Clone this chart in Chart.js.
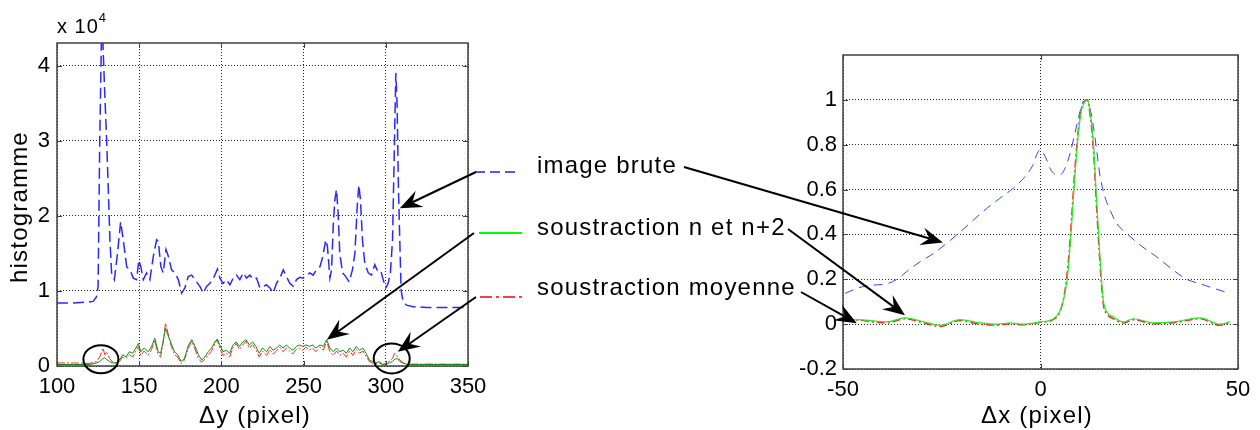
<!DOCTYPE html>
<html>
<head>
<meta charset="utf-8">
<script src="https://cdn.jsdelivr.net/npm/chart.js@4.4.1/dist/chart.umd.min.js"></script>
<style>
body { margin: 0; background: #fff; }
#wrap { position: relative; width: 1260px; height: 430px; overflow: hidden; font-family: "Liberation Sans", Arial, sans-serif; }
#wrap canvas { position: absolute; top: 0; }
.lbl { position: absolute; font-size: 24px; line-height: 24px; letter-spacing: 1.2px; white-space: nowrap; color: #000; }
</style>
</head>
<body>
<div id="wrap">
  <canvas id="left" width="500" height="430" style="left:0"></canvas>
  <canvas id="right" width="490" height="430" style="left:770px"></canvas>
  <canvas id="overlay" width="1260" height="430" style="left:0"></canvas>

  <div class="lbl" style="left:57px; top:16px; font-size:20px; line-height:20px; letter-spacing:1px">x 10<span style="font-size:13px; position:relative; top:-11px; letter-spacing:0">4</span></div>
  <div class="lbl" style="left:19px; top:207px; transform: translate(-50%, -50%) rotate(-90deg)">histogramme</div>
  <div class="lbl" style="left:255px; top:403px; transform: translateX(-50%)">&Delta;y (pixel)</div>
  <div class="lbl" style="left:1037px; top:403px; transform: translateX(-50%)">&Delta;x (pixel)</div>

  <div class="lbl" style="left:537px; top:153px">image brute</div>
  <div class="lbl" style="left:537px; top:215px">soustraction n et n+2</div>
  <div class="lbl" style="left:537px; top:275px">soustraction moyenne</div>
</div>

<script>
var FONT = "'Liberation Sans', Arial, sans-serif";

// ---- left panel : histogramme (x 10^4) vs dy ----
var dyTicks = [100, 150, 200, 250, 300, 350];
var histTicks = [0, 1, 2, 3, 4];

var dyBrute = [100,110,118,122,124,125,126,127.3,128.8,129.2,
  130.2,131.2,132.2,133.2,134.9,136.8,138.7,140.3,142.4,144.4,
  146.4,148.4,149.8,151,152.5,154.5,156.5,158.6,160.6,161.6,
  163.2,164.6,166.3,167.7,169.7,171.7,173.8,175.8,177.8,179.8,
  181.9,183.9,186.9,189,191,193,195.6,197.6,199.1,201,
  203,205.2,207.2,209.2,211.2,213.3,215.3,217.3,219.4,221.4,
  223.4,225.4,227.5,229.5,231.5,233.5,235.6,237.6,239.6,241.6,
  243.7,245.7,247.7,249.7,251.8,253.8,255.8,257.8,259.9,261.5,
  263.5,264.5,266,267,268,269,270,271,272,273.7,
  275.7,277.7,279.7,281.2,282.6,283.6,284.6,285.8,287.2,289.3,
  291.3,293.3,294.7,296.8,298.4,300,301.4,302.8,304.1,304.9,
  305.5,306.1,306.9,307.7,308.5,309.3,310.5,312.6,316.6,324.7,
  350];
var histBrute = [0.84,0.84,0.85,0.86,0.92,1.06,3.0,4.7,3.77,3.55,
  3.0,2.35,1.68,1.24,1.15,1.5,1.92,1.68,1.32,1.28,
  1.17,1.15,1.41,1.32,1.15,1.24,1.15,1.46,1.68,1.66,
  1.32,1.24,1.55,1.46,1.28,1.24,1.15,0.97,1.04,1.19,
  1.21,1.15,1.06,0.97,1.06,1.10,1.19,1.29,1.17,1.10,
  1.15,1.08,1.17,1.21,1.15,1.24,1.17,1.21,1.15,1.17,
  1.04,1.06,1.08,1.04,0.97,1.10,1.17,1.28,1.19,1.10,
  1.06,1.15,1.18,1.17,1.21,1.24,1.21,1.28,1.32,1.44,
  1.68,1.59,1.17,1.28,1.86,2.21,2.35,2.04,1.50,1.24,
  1.19,1.12,1.28,1.50,2.12,2.41,2.21,1.68,1.37,1.24,
  1.21,1.35,1.28,1.28,1.15,1.04,1.10,1.24,1.68,2.57,
  3.24,3.90,3.46,2.35,1.68,1.01,0.86,0.81,0.79,0.78,
  0.78];

var dyNoise = [100,110,120,124,126,128,129,130,132,134,
  136,138,140,142,144,146,148,149.5,151,153,
  155.5,157.5,159.5,161.5,163,164.5,166,167.5,169.5,171.5,
  173.5,175.5,177.5,180,182,184,186,188,190,192,
  194,196,197.5,199,201,203,205,207,209,211,
  213,215,217,219,221,223,225,227.5,229.5,231.5,
  233.5,235.5,237.5,239.5,241.5,243.5,245.5,247.5,249.5,251.5,
  253.5,255.5,257.5,260,262,264,266,268,270,272,
  274,276,278,280,282,284,286,288,290,292,
  294,296,298,300,302,304,305.5,307,308.5,310.5,
  313,320,350];
var histSous2 = [0.02,0.02,0.02,0.04,0.06,0.10,0.11,0.09,0.06,0.04,
  0.04,0.08,0.15,0.12,0.19,0.17,0.24,0.30,0.19,0.24,
  0.19,0.26,0.37,0.19,0.17,0.32,0.50,0.41,0.30,0.19,
  0.15,0.06,0.10,0.28,0.35,0.26,0.15,0.08,0.12,0.19,
  0.24,0.32,0.36,0.28,0.19,0.21,0.17,0.28,0.32,0.26,
  0.32,0.35,0.28,0.32,0.26,0.17,0.24,0.19,0.26,0.21,
  0.24,0.28,0.24,0.28,0.24,0.21,0.26,0.28,0.26,0.28,
  0.26,0.28,0.24,0.28,0.26,0.35,0.24,0.19,0.24,0.19,
  0.21,0.17,0.24,0.19,0.26,0.21,0.24,0.17,0.08,0.06,
  0.04,0.06,0.02,0.03,0.04,0.06,0.09,0.10,0.06,0.04,
  0.02,0.02,0.02];
var histMoy = [0.04,0.04,0.035,0.06,0.12,0.24,0.15,0.19,0.10,0.05,
  0.04,0.06,0.12,0.10,0.15,0.12,0.20,0.26,0.14,0.20,
  0.14,0.22,0.34,0.15,0.12,0.30,0.57,0.44,0.26,0.15,
  0.12,0.03,0.08,0.24,0.33,0.22,0.10,0.05,0.09,0.15,
  0.20,0.30,0.35,0.24,0.14,0.17,0.12,0.24,0.30,0.22,
  0.28,0.33,0.24,0.28,0.22,0.12,0.20,0.14,0.22,0.16,
  0.20,0.25,0.19,0.24,0.20,0.16,0.22,0.24,0.21,0.25,
  0.21,0.24,0.19,0.25,0.21,0.33,0.19,0.14,0.20,0.14,
  0.17,0.12,0.20,0.14,0.22,0.17,0.20,0.13,0.06,0.04,
  0.03,0.04,0.02,0.03,0.06,0.10,0.17,0.13,0.08,0.04,
  0.025,0.025,0.025];

// ---- right panel : normalised profile vs dx ----
var dxTicks = [-50, 0, 50];
var profTicks = [-0.2, 0, 0.2, 0.4, 0.6, 0.8, 1];

var dxBrute = [-49.5,-45.7,-42.3,-38.9,-36,-33.9,-30.5,-27.1,-23.8,-20.4,
  -17,-13.6,-10.3,-6.9,-4.3,-2.2,-0.1,1.2,2.4,3.7,
  4.9,6.2,7.5,8.7,10,10.8,11.7,12.5,13.4,14.2,
  15.1,16.3,17.6,19.3,21.8,25.2,29.4,33.6,37,40.4,
  43.8,48];
var profBrute = [0.137,0.164,0.174,0.18,0.204,0.234,0.278,0.315,0.36,0.41,
  0.464,0.516,0.561,0.606,0.65,0.70,0.777,0.747,0.695,0.668,
  0.665,0.695,0.762,0.851,0.948,0.993,1.0,0.963,0.881,0.777,
  0.658,0.568,0.509,0.449,0.405,0.353,0.30,0.241,0.20,0.18,
  0.16,0.137];

var dxSous = [-49.5,-46.5,-42.3,-38.9,-34.3,-30.5,-25.4,-20.4,-15.3,-11.1,
  -7.7,-4.8,0,3.4,5,6.2,7,7.9,8.7,9.6,
  10.4,11.3,11.9,12.5,13.4,14.2,15.1,15.9,16.8,18.4,
  21,23.5,28.6,33.6,40.4,45.4,48];
var profSous2 = [0.015,0.02,0.015,0.01,0.028,0.015,-0.005,0.02,0.006,0,
  0.006,0,0.01,0.025,0.062,0.137,0.241,0.449,0.658,0.851,
  0.955,0.993,1.0,0.955,0.807,0.554,0.286,0.107,0.055,0.033,
  0.01,0.024,0.006,0.01,0.028,0,0.01];
var profMoy = [0.012,0.018,0.01,0.006,0.024,0.01,-0.01,0.016,0,-0.004,
  0.002,-0.003,0.008,0.022,0.058,0.15,0.27,0.48,0.69,0.87,
  0.965,0.995,1.0,0.94,0.78,0.52,0.26,0.09,0.045,0.025,
  0.005,0.02,0.002,0.006,0.024,-0.005,0.006];

function pts(xs, ys) {
  return xs.map(function (x, i) { return { x: x, y: ys[i] }; });
}

// matlab style box + inward ticks
var matlabBox = {
  id: 'matlabBox',
  afterDraw: function (chart) {
    var ctx = chart.ctx, a = chart.chartArea, sx = chart.scales.x, sy = chart.scales.y;
    ctx.save();
    ctx.strokeStyle = '#404040';
    ctx.lineWidth = 1;
    ctx.beginPath();
    sx.ticks.forEach(function (t) {
      var p = Math.round(sx.getPixelForValue(t.value)) + 0.5;
      ctx.moveTo(p, a.bottom); ctx.lineTo(p, a.bottom - 5);
      ctx.moveTo(p, a.top); ctx.lineTo(p, a.top + 5);
    });
    sy.ticks.forEach(function (t) {
      var p = Math.round(sy.getPixelForValue(t.value)) + 0.5;
      ctx.moveTo(a.left, p); ctx.lineTo(a.left + 5, p);
      ctx.moveTo(a.right, p); ctx.lineTo(a.right - 5, p);
    });
    ctx.stroke();
    ctx.lineWidth = 1.5;
    ctx.strokeRect(a.left, a.top, a.right - a.left, a.bottom - a.top);
    ctx.restore();
  }
};

function axis(ticks, min, max, fit) {
  return {
    type: 'linear', min: min, max: max,
    afterBuildTicks: function (s) { s.ticks = ticks.map(function (v) { return { value: v }; }); },
    afterFit: fit,
    ticks: {
      font: { family: FONT, size: 22 }, color: '#000', padding: 8,
      autoSkip: false, maxRotation: 0,
      callback: function (v) { return String(+v.toFixed(2)); }
    },
    grid: { color: 'rgba(0,0,0,0.85)', lineWidth: 1, drawTicks: false },
    border: { display: false, dash: [1, 2] }
  };
}

var common = {
  responsive: false, animation: false, events: [],
  plugins: { legend: { display: false }, tooltip: { enabled: false } },
  elements: { point: { radius: 0 } }
};

var left = new Chart(document.getElementById('left'), {
  type: 'line',
  data: {
    datasets: [
      { label: 'soustraction n et n+2', data: pts(dyNoise, histSous2), borderColor: 'rgb(20,140,20)', borderWidth: 1, tension: 0 },
      { label: 'soustraction moyenne', data: pts(dyNoise, histMoy), borderColor: 'rgb(255,40,40)', borderWidth: 1, borderDash: [8, 2, 2, 2], tension: 0 },
      { label: 'image brute', data: pts(dyBrute, histBrute), borderColor: 'rgb(40,40,255)', borderWidth: 1.5, borderDash: [11, 5], tension: 0 }
    ]
  },
  options: Object.assign({}, common, {
    layout: { padding: { left: 0, top: 43, right: 32, bottom: 0 } },
    scales: {
      x: axis(dyTicks, 100, 350, function (s) { s.height = 64; }),
      y: axis(histTicks, 0, 4.3, function (s) { s.width = 57; })
    }
  }),
  plugins: [matlabBox]
});
left.options.scales.y.ticks.padding = 7;
left.update();

var right = new Chart(document.getElementById('right'), {
  type: 'line',
  data: {
    datasets: [
      { label: 'soustraction n et n+2', data: pts(dxSous, profSous2), borderColor: 'rgb(40,235,40)', borderWidth: 1.2, cubicInterpolationMode: 'monotone' },
      { label: 'soustraction moyenne', data: pts(dxSous, profMoy), borderColor: 'rgb(255,30,30)', borderWidth: 1.5, borderDash: [8, 3, 2, 3], cubicInterpolationMode: 'monotone' },
      { label: 'image brute', data: pts(dxBrute, profBrute), borderColor: 'rgb(60,60,255)', borderWidth: 1, borderDash: [9, 6], cubicInterpolationMode: 'monotone' }
    ]
  },
  options: Object.assign({}, common, {
    layout: { padding: { left: 0, top: 55, right: 22, bottom: 0 } },
    scales: {
      x: axis(dxTicks, -50, 50, function (s) { s.height = 61; }),
      y: axis(profTicks, -0.2, 1.2, function (s) { s.width = 73; })
    }
  }),
  plugins: [matlabBox]
});
right.options.scales.y.ticks.padding = 6;
right.update();

// ---- annotations: legend samples, arrows, circles ----
var charts = { left: { c: left, off: 0 }, right: { c: right, off: 770 } };
function px(name, x, y) {
  var o = charts[name];
  return [o.off + o.c.scales.x.getPixelForValue(x), o.c.scales.y.getPixelForValue(y)];
}

var arrows = [
  { from: [476, 172], to: ['left', 308.5, 2.1] },
  { from: [474, 233], to: ['left', 264.1, 0.35] },
  { from: [476, 297], to: ['left', 307.3, 0.19] },
  { from: [684, 167], to: ['right', -24.7, 0.364] },
  { from: [788, 229], to: ['right', -34.3, 0.04] },
  { from: [801, 292], to: ['right', -46.5, 0.004] }
];
var circles = [
  { at: ['left', 126.7, 0.09], rx: 17.5, ry: 14 },
  { at: ['left', 303.6, 0.10], rx: 18, ry: 15 }
];

var ov = document.getElementById('overlay').getContext('2d');

function sample(x0, x1, y, color, dash, w) {
  ov.save();
  ov.strokeStyle = color; ov.lineWidth = w; ov.setLineDash(dash);
  ov.beginPath(); ov.moveTo(x0, y); ov.lineTo(x1, y); ov.stroke();
  ov.restore();
}
sample(475, 520, 172, 'rgb(30,30,255)', [10, 5], 1.5);
sample(479, 522, 233, 'rgb(0,255,0)', [], 2);
sample(480, 522, 297, 'rgb(255,0,0)', [12, 4, 3, 4], 1.5);

function arrow(x0, y0, x1, y1) {
  var a = Math.atan2(y1 - y0, x1 - x0), c = Math.cos(a), s = Math.sin(a);
  var L = 22, W = 9, N = 14;
  ov.beginPath(); ov.moveTo(x0, y0); ov.lineTo(x1 - N * c, y1 - N * s); ov.stroke();
  ov.beginPath();
  ov.moveTo(x1, y1);
  ov.lineTo(x1 - L * c + W * s, y1 - L * s - W * c);
  ov.lineTo(x1 - N * c, y1 - N * s);
  ov.lineTo(x1 - L * c - W * s, y1 - L * s + W * c);
  ov.closePath(); ov.fill();
}

ov.strokeStyle = '#000'; ov.fillStyle = '#000'; ov.lineWidth = 2;
arrows.forEach(function (ar) {
  var t = px(ar.to[0], ar.to[1], ar.to[2]);
  arrow(ar.from[0], ar.from[1], t[0], t[1]);
});
circles.forEach(function (ci) {
  var p = px(ci.at[0], ci.at[1], ci.at[2]);
  ov.beginPath(); ov.ellipse(p[0], p[1], ci.rx, ci.ry, 0, 0, Math.PI * 2); ov.stroke();
});
</script>
</body>
</html>
